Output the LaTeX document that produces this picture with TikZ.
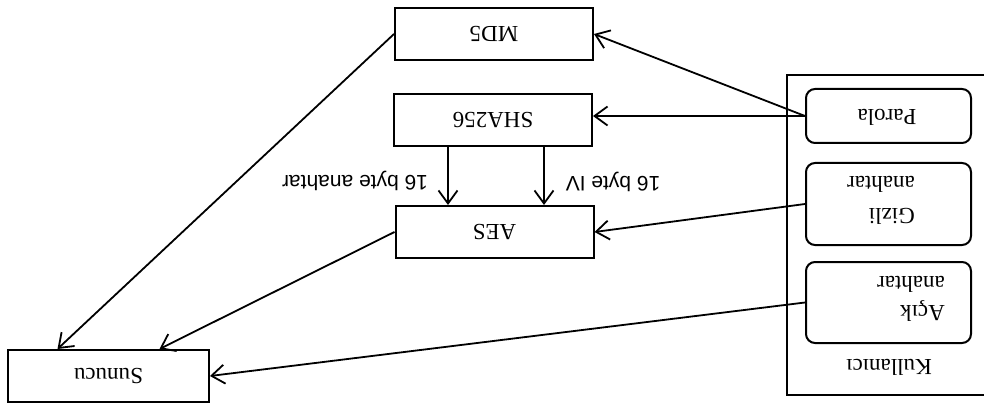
\documentclass[tikz,border=0pt]{standalone}
\usepackage{fontspec}
\setmainfont{Liberation Serif}
\setsansfont{Liberation Sans}
\usetikzlibrary{arrows.meta}
\begin{document}
\begin{tikzpicture}[x=1pt,y=-1pt,
  box/.style={draw,line width=2pt,minimum width=198pt,minimum height=52pt,inner sep=0pt},
  rbox/.style={draw,line width=2pt,rounded corners=9pt,minimum width=165pt,inner sep=0pt},
  txt/.style={rotate=180,font=\fontsize{23}{25}\selectfont,inner sep=0pt,align=left},
  lbl/.style={rotate=180,font=\sffamily\fontsize{21}{23}\selectfont,inner sep=0pt},
  arr/.style={line width=1.8pt,-{Straight Barb[length=13pt,width=19pt,line width=1.8pt]}}]
\useasboundingbox (0,0) rectangle (984,403);

% hash / cipher blocks
\node[box] (md5) at (494,34) {};
\node[txt] (md5t) at (494,34) {MD5};
\node[box] (sha) at (493,120) {};
\node[txt] (shat) at (493,120) {SHA256};
\node[box] (aes) at (494.5,232) {};
\node[txt] (aest) at (494.5,232) {AES};
\node[box,minimum width=201pt] (sunucu) at (108.5,376) {};
\node[txt] (sunucut) at (108.5,376) {Sunucu};

% user frame (open on the right)
\draw[line width=2pt] (990,75) -- (787,75) -- (787,395) -- (990,395);
\node[txt] (kullanici) at (889,367) {Kullanıcı};

\node[rbox,minimum height=54pt] (parola) at (888.5,116) {};
\node[txt] (parolat) at (887,117) {Parola};
\node[rbox,minimum height=82pt] (gizli) at (888.5,204) {};
\node[txt,font=\fontsize{23}{32}\selectfont] (gizlit) at (881,200) {Gizli\\anahtar};
\node[rbox,minimum height=81pt] (acik) at (888.5,302.5) {};
\node[txt,font=\fontsize{23}{28.5}\selectfont] (acikt) at (911,299) {Açık\\anahtar};

% key material into the primitives
\draw[arr] (parola.west) -- (md5.east);
\draw[arr] (parola.west) -- (sha.east |- parola.west);
\draw[arr] (gizli.west) -- (aes.east);
\draw[arr] (acik.west) -- (sunucu.east);

% SHA256 output split into key and IV
\draw[arr] ([xshift=-45pt]sha.south) -- ([xshift=-45pt]sha.south |- aes.north);
\draw[arr] ([xshift=51pt]sha.south) -- ([xshift=51pt]sha.south |- aes.north);
\node[lbl] (keylbl) at (355,181) {16 byte anahtar};
\node[lbl] (ivlbl) at (613,182) {16 byte IV};

% results sent to the server
\draw[arr] (md5.west) -- ([xshift=-51pt]sunucu.north);
\draw[arr] (aes.west) -- ([xshift=51pt]sunucu.north);
\end{tikzpicture}
\end{document}
